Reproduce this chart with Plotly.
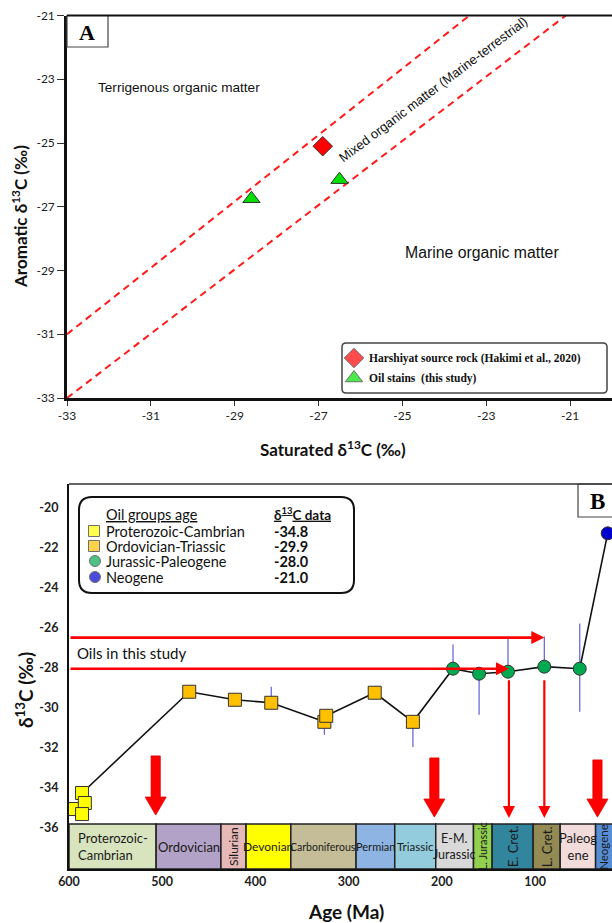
import plotly.graph_objects as go

W, H = 612, 923

# ---------------- Panel A data ----------------
harshiyat_sat = [-26.9]
harshiyat_aro = [-25.1]
oil_sat = [-28.6, -26.5]
oil_aro = [-26.75, -26.15]
upper_line_sat = [-33.0, -23.4]
upper_line_aro = [-31.0, -21.0]
lower_line_sat = [-33.0, -21.1]
lower_line_aro = [-33.0, -21.0]
a_ticks = [-33, -31, -29, -27, -25, -23, -21]

# ---------------- Panel B data ----------------
pc_age = [594.6, 586.0, 583.0, 586.0]
pc_d13c = [-35.05, -34.25, -34.75, -35.3]
ot_age = [471, 422, 383, 326, 324, 272, 231]
ot_d13c = [-29.2, -29.6, -29.75, -30.7, -30.4, -29.25, -30.7]
jp_age = [188, 160, 129, 90, 52]
jp_d13c = [-28.05, -28.3, -28.2, -27.95, -28.05]
ng_age = [22]
ng_d13c = [-21.3]

range_age = [383, 326, 231, 188, 160, 129, 90, 52]
range_from = [-29.75, -30.7, -30.7, -28.05, -28.3, -28.2, -27.95, -25.8]
range_to = [-28.95, -31.35, -31.95, -26.85, -30.35, -26.55, -26.45, -30.2]

period_names = ["Proterozoic-<br>Cambrian", "Ordovician", "Silurian", "Devonian",
                "Carboniferous", "Permian", "Triassic", "E-M.<br>Jurassic",
                "L. Jurassic", "E. Cret.", "L. Cret.", "Paleog<br>ene", "Neogene"]
period_start = [600, 506.5, 437, 410, 362, 292, 250.5, 206.5, 166, 146, 102, 73, 35]
period_end = [506.5, 437, 410, 362, 292, 250.5, 206.5, 166, 146, 102, 73, 35, 0]
period_vertical = [False, False, True, False, False, False, False, False, True, True, True, False, True]
period_colors = ["#D7E4BD", "#B3A2C7", "#E6B9B8", "#FFFF00", "#C4BD97", "#8EB4E3",
                 "#93CDDD", "#D9D9D9", "#92D050", "#31859C", "#948A54", "#F2DCDB", "#558ED5"]
period_font = [13, 13, 12, 12, 10.5, 11, 11.5, 12.5, 11, 13, 13, 13, 11.5]

big_arrow_age = [507, 208, 33]
big_arrow_top = [-32.4, -32.5, -32.6]
big_arrow_tip = [-35.35, -35.45, -35.45]

study_line_d13c = [-26.5, -28.05]
study_line_end_age = [90, 128]
vert_arrow_age = [128, 90]
vert_arrow_from = [-28.55, -28.55]
vert_arrow_to = [-35.5, -35.5]

legend_groups = ["Proterozoic-Cambrian", "Ordovician-Triassic", "Jurassic-Paleogene", "Neogene"]
legend_values = ["-34.8", "-29.9", "-28.0", "-21.0"]

b_ticks_x = [600, 500, 400, 300, 200, 100]
b_ticks_y = [-36, -34, -32, -30, -28, -26, -24, -22, -20]

# ---------------- geometry ----------------
AX_L, AX_T, AX_B = 67, 15.5, 398
BX_L, BX_T, BX_B = 69, 484, 869
B_XRANGE = [600, 17.4]
B_YRANGE = [-38.04, -18.84]
px_per_ma = (W - BX_L) / (B_XRANGE[0] - B_XRANGE[1])
px_per_unit_b = (BX_B - BX_T) / (B_YRANGE[1] - B_YRANGE[0])

fig = go.Figure()
OUT = dict(color="#333333", width=1)

# Panel A traces
for xs_, ys_ in [(upper_line_sat, upper_line_aro), (lower_line_sat, lower_line_aro)]:
    fig.add_trace(go.Scatter(x=xs_, y=ys_, mode="lines",
                             line=dict(color="#FF1A1A", width=2, dash="7px,5px"),
                             xaxis="x", yaxis="y", hoverinfo="skip"))
fig.add_trace(go.Scatter(x=harshiyat_sat, y=harshiyat_aro, mode="markers",
                         marker=dict(symbol="diamond", size=15, color="#FF0000", line=OUT),
                         xaxis="x", yaxis="y"))
fig.add_trace(go.Scatter(x=oil_sat, y=oil_aro, mode="markers",
                         marker=dict(symbol="triangle-up", size=15, color="#00E000", line=OUT),
                         xaxis="x", yaxis="y"))

# Panel B: range bars
rx, ry = [], []
for a, f, t in zip(range_age, range_from, range_to):
    rx += [a, a, None]
    ry += [f, t, None]
fig.add_trace(go.Scatter(x=rx, y=ry, mode="lines", line=dict(color="#6B6BD6", width=1.3),
                         xaxis="x2", yaxis="y2", hoverinfo="skip"))

# trend line
trend_age = [pc_age[1]] + ot_age + jp_age + ng_age
trend_val = [pc_d13c[1]] + ot_d13c + jp_d13c + ng_d13c
fig.add_trace(go.Scatter(x=trend_age, y=trend_val, mode="lines", line=dict(color="#111111", width=1.6),
                         xaxis="x2", yaxis="y2", hoverinfo="skip"))

# big red arrows
shaft_half = 4.6 / px_per_ma
head_half = 10.5 / px_per_ma
head_len = 18 / px_per_unit_b
for a, top, tip in zip(big_arrow_age, big_arrow_top, big_arrow_tip):
    hs = tip + head_len
    xs = [a - shaft_half, a + shaft_half, a + shaft_half, a + head_half, a, a - head_half, a - shaft_half, a - shaft_half]
    ys = [top, top, hs, hs, tip, hs, hs, top]
    fig.add_trace(go.Scatter(x=xs, y=ys, mode="lines", fill="toself", fillcolor="#FF0000",
                             line=dict(color="#E00000", width=0.8), xaxis="x2", yaxis="y2",
                             hoverinfo="skip"))

# markers
fig.add_trace(go.Scatter(x=pc_age, y=pc_d13c, mode="markers",
                         marker=dict(symbol="square", size=13, color="#FFFF00", line=OUT),
                         xaxis="x2", yaxis="y2"))
fig.add_trace(go.Scatter(x=ot_age, y=ot_d13c, mode="markers",
                         marker=dict(symbol="square", size=13, color="#FFC000", line=OUT),
                         xaxis="x2", yaxis="y2"))
fig.add_trace(go.Scatter(x=jp_age, y=jp_d13c, mode="markers",
                         marker=dict(symbol="circle", size=13, color="#00A850", line=OUT),
                         xaxis="x2", yaxis="y2"))
fig.add_trace(go.Scatter(x=ng_age, y=ng_d13c, mode="markers",
                         marker=dict(symbol="circle", size=13, color="#0000CC", line=OUT),
                         xaxis="x2", yaxis="y2"))

# legend markers (overlay pixel axis)
fig.add_trace(go.Scatter(x=[354, 354], y=[358, 378], mode="markers",
                         marker=dict(symbol=["diamond", "triangle-up"], size=[15, 15],
                                     color=["#FF0000", "#00E000"], line=OUT),
                         xaxis="x3", yaxis="y3", hoverinfo="skip"))
fig.add_trace(go.Scatter(x=[94, 94, 95, 95], y=[531, 546, 561, 577], mode="markers",
                         marker=dict(symbol=["square", "square", "circle", "circle"], size=[11, 11, 11, 11],
                                     color=["#FFFF00", "#FFC000", "#00A850", "#0000CC"], line=OUT),
                         xaxis="x3", yaxis="y3", hoverinfo="skip"))

shapes = []
annotations = []

# period boxes
for i, (nm, s, e, c) in enumerate(zip(period_names, period_start, period_end, period_colors)):
    shapes.append(dict(type="rect", xref="x2", yref="y2", x0=s, x1=e, y0=B_YRANGE[0], y1=-35.8,
                       fillcolor=c, line=dict(color="#222222", width=1.5), layer="below"))
    mid = (s + B_XRANGE[1] + 1) / 2 if e < B_XRANGE[1] else (s + e) / 2
    annotations.append(dict(xref="x2", yref="y2", x=mid, y=(B_YRANGE[0] - 35.8) / 2, text=nm,
                            showarrow=False, textangle=-90 if period_vertical[i] else 0,
                            font=dict(family="Lato", size=period_font[i], color="#1a1a1a"),
                            align="left" if i == 0 else "center"))

# thin red arrows
for yv, ea in zip(study_line_d13c, study_line_end_age):
    annotations.append(dict(xref="x2", yref="y2", axref="x2", ayref="y2", x=ea, y=yv,
                            ax=B_XRANGE[0], ay=yv, text="", showarrow=True, arrowhead=2,
                            arrowsize=1, arrowwidth=2.6, arrowcolor="#FF0000", standoff=0))
for a, f, t in zip(vert_arrow_age, vert_arrow_from, vert_arrow_to):
    annotations.append(dict(xref="x2", yref="y2", axref="x2", ayref="y2", x=a, y=t,
                            ax=a, ay=f, text="", showarrow=True, arrowhead=2,
                            arrowsize=1.1, arrowwidth=2.2, arrowcolor="#FF0000", standoff=0))

annotations.append(dict(xref="x3", yref="y3", x=75, y=653, text="Oils in this study", showarrow=False,
                        xanchor="left", font=dict(family="Lato", size=15, color="#111")))

# Panel A region texts
SANS = "Liberation Sans, Arial, sans-serif"
annotations.append(dict(xref="x", yref="y", x=-30.33, y=-23.25, text="Terrigenous organic matter",
                        showarrow=False, font=dict(family=SANS, size=13.6, color="#111")))
annotations.append(dict(xref="x", yref="y", x=-23.1, y=-28.45, text="Marine organic matter",
                        showarrow=False, font=dict(family=SANS, size=15.8, color="#111")))
annotations.append(dict(xref="x", yref="y", x=-24.27, y=-23.31, text="Mixed organic matter (Marine-terrestrial)",
                        showarrow=False, textangle=-37, font=dict(family=SANS, size=13, color="#111")))

# Legend A
def rrect(x0, y0, x1, y1, r):
    return (f"M{x0+r},{y0} L{x1-r},{y0} Q{x1},{y0} {x1},{y0+r} L{x1},{y1-r} Q{x1},{y1} {x1-r},{y1} "
            f"L{x0+r},{y1} Q{x0},{y1} {x0},{y1-r} L{x0},{y0+r} Q{x0},{y0} {x0+r},{y0} Z")

shapes.append(dict(type="path", xref="x3", yref="y3", path=rrect(342, 343, 607, 393, 4),
                   line=dict(color="#444", width=1.5), fillcolor="white", layer="below"))
SERIF = "Liberation Serif, Times New Roman, serif"
annotations.append(dict(xref="x3", yref="y3", x=367, y=358, xanchor="left", showarrow=False,
                        text="<b>Harshiyat source rock (Hakimi et al., 2020)</b>",
                        font=dict(family=SERIF, size=11.5, color="#111")))
annotations.append(dict(xref="x3", yref="y3", x=367, y=378, xanchor="left", showarrow=False,
                        text="<b>Oil stains  (this study)</b>",
                        font=dict(family=SERIF, size=11.5, color="#111")))

# Legend B
shapes.append(dict(type="path", xref="x3", yref="y3", path=rrect(79, 497, 354, 593, 13),
                   line=dict(color="#111", width=2), fillcolor="white", layer="below"))
annotations.append(dict(xref="x3", yref="y3", x=104, y=514, xanchor="left", showarrow=False,
                        text="<span style='text-decoration:underline'>Oil groups age</span>",
                        font=dict(family="Lato", size=14.5, color="#111")))
annotations.append(dict(xref="x3", yref="y3", x=272, y=514, xanchor="left", showarrow=False,
                        text="<span style='text-decoration:underline'><b>δ<sup>13</sup>C data</b></span>",
                        font=dict(family="Lato", size=13.5, color="#111")))
for yy, g, v in zip([531, 546, 561, 577], legend_groups, legend_values):
    annotations.append(dict(xref="x3", yref="y3", x=104, y=yy, xanchor="left", showarrow=False,
                            text=g, font=dict(family="Lato", size=14.5, color="#111")))
    annotations.append(dict(xref="x3", yref="y3", x=272, y=yy, xanchor="left", showarrow=False,
                            text=f"<b>{v}</b>", font=dict(family="Lato", size=14.5, color="#111")))

# Panel labels A, B
shapes.append(dict(type="rect", xref="x3", yref="y3", x0=67, x1=108, y0=15.5, y1=47,
                   line=dict(color="#444", width=1.2), fillcolor="white"))
annotations.append(dict(xref="x3", yref="y3", x=87, y=32, text="<b>A</b>", showarrow=False,
                        font=dict(family=SERIF, size=22, color="#000")))
shapes.append(dict(type="rect", xref="x3", yref="y3", x0=578, x1=614, y0=484, y1=517,
                   line=dict(color="#444", width=1.2), fillcolor="white"))
annotations.append(dict(xref="x3", yref="y3", x=597, y=501, text="<b>B</b>", showarrow=False,
                        font=dict(family=SERIF, size=23, color="#000")))

# top borders
shapes.append(dict(type="line", xref="x3", yref="y3", x0=AX_L, x1=W, y0=AX_T, y1=AX_T,
                   line=dict(color="#111", width=2)))
shapes.append(dict(type="line", xref="x3", yref="y3", x0=BX_L, x1=W, y0=BX_T, y1=BX_T,
                   line=dict(color="#333", width=1.5)))

# axis titles
annotations.append(dict(xref="x3", yref="y3", x=333, y=448, showarrow=False,
                        text="<b>Saturated δ<sup>13</sup>C (‰)</b>", font=dict(family="Lato", size=17, color="#111")))
annotations.append(dict(xref="x3", yref="y3", x=19, y=217, showarrow=False, textangle=-90,
                        text="<b>Aromatic δ<sup>13</sup>C (‰)</b>", font=dict(family="Lato", size=17, color="#111")))
annotations.append(dict(xref="x3", yref="y3", x=24, y=690, showarrow=False, textangle=-90,
                        text="<b>δ<sup>13</sup>C (‰)</b>", font=dict(family="Lato", size=19, color="#111")))
annotations.append(dict(xref="x3", yref="y3", x=346, y=911, showarrow=False,
                        text="<b>Age (Ma)</b>", font=dict(family="Lato", size=19, color="#111")))

fig.update_layout(
    width=W, height=H, margin=dict(l=0, r=0, t=0, b=0, pad=0, autoexpand=False),
    paper_bgcolor="white", plot_bgcolor="rgba(0,0,0,0)", showlegend=False,
    xaxis=dict(domain=[AX_L / W, 1], range=[-33, -20], anchor="y", tickvals=a_ticks,
               ticktext=[str(v) for v in a_ticks], automargin=False,
               showgrid=False, zeroline=False, showline=True, linecolor="#111", linewidth=2.5,
               ticks="outside", ticklen=5, tickcolor="#333", tickwidth=1,
               tickfont=dict(family="Lato", size=12, color="#222")),
    yaxis=dict(domain=[1 - AX_B / H, 1 - AX_T / H], range=[-33, -21], anchor="x", tickvals=a_ticks,
               ticktext=[str(v) for v in a_ticks], automargin=False,
               showgrid=False, zeroline=False, showline=True, linecolor="#111", linewidth=2.5,
               ticks="outside", ticklen=7, tickcolor="#333", tickwidth=1,
               tickfont=dict(family="Lato", size=12, color="#222")),
    xaxis2=dict(domain=[BX_L / W, 1], range=B_XRANGE, anchor="y2", tickvals=b_ticks_x,
                ticktext=[str(v) for v in b_ticks_x], automargin=False,
                showgrid=False, zeroline=False, showline=True, linecolor="#111", linewidth=2,
                ticks="", ticklabelstandoff=0,
                tickfont=dict(family="Lato", size=12.5, color="#222", weight="bold")),
    yaxis2=dict(domain=[1 - BX_B / H, 1 - BX_T / H], range=B_YRANGE, anchor="x2", tickvals=b_ticks_y,
                ticktext=[str(v) for v in b_ticks_y], automargin=False,
                showgrid=False, zeroline=False, showline=True, linecolor="#111", linewidth=2,
                ticks="", ticklabelstandoff=6,
                tickfont=dict(family="Lato", size=12.5, color="#222", weight="bold")),
    xaxis3=dict(domain=[0, 1], range=[0, W], anchor="y3", visible=False, fixedrange=True, automargin=False),
    yaxis3=dict(domain=[0, 1], range=[H, 0], anchor="x3", visible=False, fixedrange=True, automargin=False),
    shapes=shapes, annotations=annotations,
)

fig.write_html("out.html", config={"responsive": False, "displayModeBar": False},
               post_script="document.body.style.margin='0';document.body.style.overflow='hidden';")
